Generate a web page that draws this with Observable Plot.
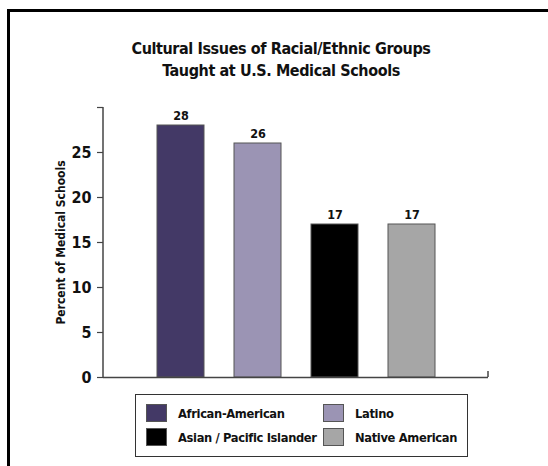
<!DOCTYPE html>
<html>
<head>
<meta charset="utf-8">
<script src="https://cdn.jsdelivr.net/npm/d3@7"></script>
<script src="https://cdn.jsdelivr.net/npm/@observablehq/plot@0.6"></script>
<style>
  html, body { margin: 0; padding: 0; background: #fff; width: 548px; height: 466px; overflow: hidden; }
  body { position: relative; font-family: "DejaVu Sans", sans-serif; font-stretch: condensed; }
  #frame { position: absolute; left: 7px; top: 9px; width: 600px; height: 500px; border-top: 3px solid #000; border-left: 3px solid #000; }
  #title { position: absolute; left: 0; width: 562px; top: 38px; text-align: center; font-weight: bold; font-size: 16px; letter-spacing: -0.4px; line-height: 22px; color: #111; font-stretch: condensed; }
  #chart { position: absolute; left: 0; top: 95px; }
  #chart svg text { font-stretch: condensed; }
  #legend { position: absolute; left: 135px; top: 394px; width: 331px; height: 61px; border: 1px solid #333; }
  .item { position: absolute; display: flex; align-items: center; font-weight: bold; font-size: 12.8px; letter-spacing: -0.35px; color: #111; font-stretch: condensed; white-space: nowrap; }
  .sw { width: 19px; height: 16px; border: 1px solid #555; margin-right: 11px; flex: none; }
</style>
</head>
<body>
<div id="frame"></div>
<div id="title">Cultural Issues of Racial/Ethnic Groups<br>Taught at U.S. Medical Schools</div>
<div id="chart"></div>
<div id="legend"></div>
<script>
const groups = ["African-American", "Latino", "Asian / Pacific Islander", "Native American"];
const values = [28, 26, 17, 17];
const colors = ["#433966", "#9b94b4", "#000000", "#a6a6a6"];
const yTicks = [0, 5, 10, 15, 20, 25, 30];
const yLabels = ["0", "5", "10", "15", "20", "25", ""];
const yTitle = "Percent of Medical Schools";
const legendOrder = ["African-American", "Latino", "Asian / Pacific Islander", "Native American"];

const data = groups.map((g, i) => ({group: g, value: values[i]}));
const FONT = '"DejaVu Sans", sans-serif';

const axisLines = (index, scales, vals, dims) => {
  const xl = dims.marginLeft;
  const xr = dims.width - dims.marginRight;
  const y0 = scales.y(0);
  const yTop = scales.y(30);
  const g = d3.create("svg:g").attr("stroke", "#444").attr("stroke-width", 1.5).attr("fill", "none");
  g.append("line").attr("x1", xl).attr("x2", xl).attr("y1", yTop).attr("y2", y0);
  g.append("line").attr("x1", xr).attr("x2", xr).attr("y1", y0 - 6).attr("y2", y0);
  return g.node();
};

const chart = Plot.plot({
  width: 548,
  height: 295,
  marginLeft: 103,
  marginRight: 60,
  marginTop: 12,
  marginBottom: 13,
  style: {fontFamily: FONT, color: "#111", fontStretch: "condensed"},
  x: {domain: groups, paddingInner: 0.39, paddingOuter: 0.695, axis: null},
  y: {domain: [0, 30], axis: null},
  color: {domain: groups, range: colors},
  marks: [
    Plot.barY(data, {x: "group", y: "value", fill: "group", stroke: "#555", strokeWidth: 1}),
    Plot.text(data, {x: "group", y: "value", text: d => String(d.value), dy: -6, lineAnchor: "bottom", fontWeight: "bold", fontSize: 12.5, fill: "#111"}),
    Plot.ruleY([0], {stroke: "#444", strokeWidth: 1.5}),
    Plot.axisY({ticks: yTicks, tickFormat: (d, i) => yLabels[i], tickSize: 6, tickPadding: 6, fontSize: 16, fontWeight: "bold", stroke: "#444", strokeWidth: 1.2, label: null}),
    Plot.text([yTitle], {frameAnchor: "left", textAnchor: "middle", dx: -42, rotate: -90, fontWeight: "bold", fontSize: 12, fill: "#111"}),
    axisLines
  ]
});
document.getElementById("chart").appendChild(chart);

const legend = document.getElementById("legend");
const pos = [[10, 9], [187, 9], [10, 33], [187, 33]];
legendOrder.forEach((g, i) => {
  const it = document.createElement("div");
  it.className = "item";
  it.style.left = pos[i][0] + "px";
  it.style.top = pos[i][1] + "px";
  const sw = document.createElement("div");
  sw.className = "sw";
  sw.style.background = colors[groups.indexOf(g)];
  const t = document.createElement("span");
  t.textContent = g;
  it.appendChild(sw);
  it.appendChild(t);
  legend.appendChild(it);
});
</script>
</body>
</html>
